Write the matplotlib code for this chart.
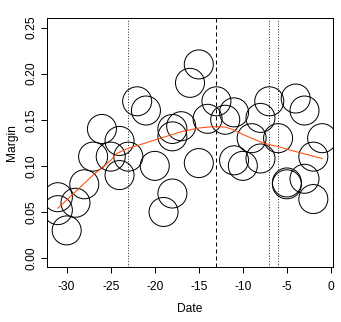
import matplotlib
matplotlib.use("Agg")
import matplotlib.pyplot as plt

# Data points (Date, Margin)
dates = [-31, -31, -30, -29, -28, -27, -26, -25, -24, -24, -23, -22, -21, -20,
         -19, -18, -18, -18, -17, -16, -15, -15, -14, -13, -12, -11, -11, -10,
         -9, -8, -8, -7, -6, -5, -5, -4, -3, -3, -2, -2, -1]
margins = [0.066, 0.052, 0.030, 0.060, 0.080, 0.110, 0.140, 0.110, 0.127, 0.090,
           0.110, 0.170, 0.160, 0.100, 0.050, 0.070, 0.140, 0.132, 0.143, 0.190,
           0.210, 0.103, 0.151, 0.170, 0.150, 0.158, 0.106, 0.100, 0.130, 0.152,
           0.108, 0.170, 0.130, 0.080, 0.082, 0.173, 0.160, 0.086, 0.110, 0.064,
           0.130]

# Smooth (lowess-like) curve
smooth_x = [-31, -30, -29, -28, -27, -26, -25, -24.3, -23, -22, -21, -20, -19,
            -18, -17, -16, -15, -14, -13, -12, -11, -10, -9, -8, -7, -6, -5,
            -4, -3, -2, -1]
smooth_y = [0.054, 0.063, 0.072, 0.081, 0.090, 0.098, 0.106, 0.1136, 0.119,
            0.122, 0.125, 0.128, 0.131, 0.134, 0.137, 0.139, 0.141, 0.142,
            0.1425, 0.142, 0.139, 0.134, 0.130, 0.126, 0.123, 0.121, 0.118,
            0.1155, 0.113, 0.1105, 0.108]

dotted_lines = [-23, -7, -6]
dashed_lines = [-13]

xticks = [-30, -25, -20, -15, -10, -5, 0]
yticks = [0.00, 0.05, 0.10, 0.15, 0.20, 0.25]
ytick_labels = ["0.00", "0.05", "0.10", "0.15", "0.20", "0.25"]

plt.rcParams['font.family'] = ['Liberation Sans', 'DejaVu Sans']

W, H = 341, 322
fig = plt.figure(figsize=(W / 72, H / 72), dpi=72)
left, right, top, bottom = 47.3, 332.7, 18.3, 267.3
ax = fig.add_axes([left / W, (H - bottom) / H, (right - left) / W, (bottom - top) / H])

ax.scatter(dates, margins, s=(2 * 14.5) ** 2, facecolors='none',
           edgecolors='black', linewidths=1.0, zorder=2)
ax.plot(smooth_x, smooth_y, color='#FF4500', lw=1.0, zorder=3)
for v in dotted_lines:
    ax.axvline(v, color='black', lw=0.9, ls=(0, (1, 2)), zorder=1)
for v in dashed_lines:
    ax.axvline(v, color='black', lw=1.0, ls=(0, (4, 3)), zorder=1)

ax.set_xlim(-32.2, 0.2)
ax.set_ylim(-0.01, 0.26)
ax.set_xticks(xticks)
ax.set_xticklabels([str(t) for t in xticks])
ax.set_yticks(yticks)
ax.set_yticklabels(ytick_labels, rotation=90, va='center')
ax.tick_params(direction='out', length=6, width=1, labelsize=12)
ax.tick_params(axis='x', pad=8)
ax.tick_params(axis='y', pad=4)
for sp in ax.spines.values():
    sp.set_linewidth(1)
ax.set_xlabel('Date', fontsize=12, labelpad=10)
ax.set_ylabel('Margin', fontsize=12, labelpad=7)

fig.savefig('out.png', dpi=72)
